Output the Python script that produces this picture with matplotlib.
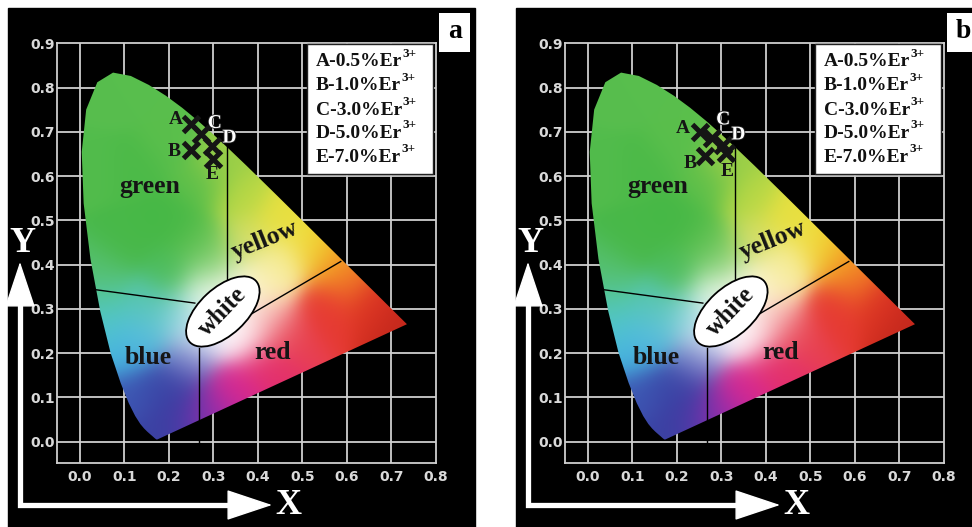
import numpy as np
import matplotlib.pyplot as plt
from matplotlib.patches import Polygon, Ellipse, Rectangle
from matplotlib.colors import to_rgb
import matplotlib.patheffects as pe

W, H = 972, 527

# CIE 1931 spectral locus, 380-700 nm
locus_x = [0.1741, 0.1740, 0.1738, 0.1736, 0.1733, 0.1730, 0.1726, 0.1721, 0.1714, 0.1703,
           0.1689, 0.1669, 0.1644, 0.1611, 0.1566, 0.1510, 0.1440, 0.1355, 0.1241, 0.1096,
           0.0913, 0.0687, 0.0454, 0.0235, 0.0082, 0.0039, 0.0139, 0.0389, 0.0743, 0.1142,
           0.1547, 0.1929, 0.2296, 0.2658, 0.3016, 0.3373, 0.3731, 0.4087, 0.4441, 0.4788,
           0.5125, 0.5448, 0.5752, 0.6029, 0.6270, 0.6482, 0.6658, 0.6801, 0.6915, 0.7006,
           0.7079, 0.7140, 0.7190, 0.7230, 0.7260, 0.7283, 0.7300, 0.7320, 0.7334, 0.7347]
locus_y = [0.0050, 0.0050, 0.0049, 0.0049, 0.0048, 0.0048, 0.0048, 0.0048, 0.0051, 0.0058,
           0.0069, 0.0086, 0.0109, 0.0138, 0.0177, 0.0227, 0.0297, 0.0399, 0.0578, 0.0868,
           0.1327, 0.2007, 0.2950, 0.4127, 0.5384, 0.6548, 0.7502, 0.8120, 0.8338, 0.8262,
           0.8059, 0.7816, 0.7543, 0.7243, 0.6923, 0.6589, 0.6245, 0.5896, 0.5547, 0.5202,
           0.4866, 0.4544, 0.4242, 0.3965, 0.3725, 0.3514, 0.3340, 0.3197, 0.3083, 0.2993,
           0.2920, 0.2859, 0.2809, 0.2770, 0.2740, 0.2717, 0.2700, 0.2680, 0.2666, 0.2653]

# colour shading of the diagram (anchor chromaticity -> colour)
shade = [
    (0.08, 0.78, '#58be4e'), (0.03, 0.62, '#52bc4c'), (0.12, 0.62, '#4cba48'),
    (0.20, 0.68, '#5abf4c'), (0.10, 0.45, '#48b848'), (0.20, 0.50, '#46b846'),
    (0.27, 0.58, '#5cbf4a'), (0.27, 0.45, '#58be4c'), (0.05, 0.38, '#55bf6a'),
    (0.20, 0.38, '#4cbc58'),
    (0.32, 0.63, '#9ccf48'), (0.36, 0.55, '#b8d845'), (0.37, 0.45, '#d4de68'),
    (0.45, 0.50, '#e8e040'), (0.52, 0.44, '#f0dc38'), (0.45, 0.40, '#f6ec98'),
    (0.57, 0.41, '#f4a822'), (0.60, 0.37, '#f07028'),
    (0.66, 0.31, '#dc3424'), (0.72, 0.27, '#c4281c'), (0.55, 0.30, '#e63a32'),
    (0.47, 0.24, '#e84050'), (0.42, 0.17, '#e4306a'), (0.35, 0.12, '#d82890'),
    (0.30, 0.07, '#a82aa8'), (0.26, 0.04, '#6a34b0'),
    (0.20, 0.04, '#3c3ca0'), (0.17, 0.01, '#3a44a4'), (0.17, 0.12, '#3a48a8'),
    (0.12, 0.10, '#3e58b4'), (0.22, 0.10, '#383ca0'),
    (0.10, 0.20, '#44b0e0'), (0.06, 0.26, '#50c4d0'), (0.14, 0.24, '#5cc0dc'),
    (0.05, 0.32, '#55c8a8'), (0.15, 0.31, '#58c6b4'),
    (0.32, 0.29, '#ffffff'), (0.36, 0.35, '#fffaf0'), (0.28, 0.33, '#e2f4e2'),
    (0.36, 0.24, '#fff4f8'), (0.27, 0.24, '#eaeefa'),
    (0.30, 0.40, '#90d480'), (0.42, 0.36, '#faf0b0'), (0.42, 0.28, '#f8c8c8'),
    (0.22, 0.28, '#80d0d8'), (0.24, 0.18, '#7078c4'),
]
shade_x = [s[0] for s in shade]
shade_y = [s[1] for s in shade]
shade_c = [s[2] for s in shade]

ticks_x = [0.0, 0.1, 0.2, 0.3, 0.4, 0.5, 0.6, 0.7, 0.8]
ticks_y = [0.0, 0.1, 0.2, 0.3, 0.4, 0.5, 0.6, 0.7, 0.8, 0.9]

legend_lines = ['A-0.5%Er', 'B-1.0%Er', 'C-3.0%Er', 'D-5.0%Er', 'E-7.0%Er']
point_names = ['A', 'B', 'C', 'D', 'E']

# panel a coordinates (A, B, C, D, E)
a_x = [0.249, 0.249, 0.273, 0.296, 0.298]
a_y = [0.717, 0.659, 0.695, 0.667, 0.638]
a_lab_x = [0.216, 0.211, 0.303, 0.336, 0.296]
a_lab_y = [0.727, 0.655, 0.719, 0.686, 0.603]

# panel b coordinates
b_x = [0.252, 0.262, 0.278, 0.304, 0.310]
b_y = [0.700, 0.646, 0.686, 0.670, 0.652]
b_lab_x = [0.214, 0.229, 0.304, 0.338, 0.313]
b_lab_y = [0.708, 0.629, 0.727, 0.693, 0.610]

region_names = ['green', 'yellow', 'blue', 'red']
region_x = [0.157, 0.416, 0.154, 0.433]
region_y = [0.577, 0.456, 0.189, 0.202]
region_rot = [0, 22, 0, 0]

# boundary lines between colour regions
bound_x = [[0.330, 0.330], [0.0075, 0.258], [0.386, 0.586], [0.268, 0.268]]
bound_y = [[0.675, 0.362], [0.347, 0.313], [0.289, 0.407], [0.211, 0.0]]


def chroma_image(sigma=0.04):
    gx = np.linspace(0.0, 0.75, 300)
    gy = np.linspace(0.0, 0.85, 340)
    xx, yy = np.meshgrid(gx, gy)
    cols = np.array([to_rgb(c) for c in shade_c])
    d2 = (xx[..., None] - np.array(shade_x)) ** 2 + (yy[..., None] - np.array(shade_y)) ** 2
    d2 = d2 - d2.min(axis=2, keepdims=True)
    w = np.exp(-d2 / (2 * sigma ** 2))
    rgb = np.einsum('hwk,kc->hwc', w, cols) / w.sum(axis=2, keepdims=True)
    return np.clip(rgb, 0, 1), (gx[0], gx[-1], gy[0], gy[-1])


img, ext = chroma_image()

fig = plt.figure(figsize=(9.72, 5.27), dpi=100)
fig.patch.set_facecolor('white')

bg = fig.add_axes([0, 0, 1, 1], zorder=-5)
bg.set_xlim(0, W)
bg.set_ylim(H, 0)
bg.axis('off')
bg.add_patch(Rectangle((8, 8), 467, 519, color='black'))
bg.add_patch(Rectangle((516, 8), 460, 519, color='black'))

ov = fig.add_axes([0, 0, 1, 1], zorder=10)
ov.set_xlim(0, W)
ov.set_ylim(H, 0)
ov.axis('off')
ov.patch.set_alpha(0)

serif = dict(family='Liberation Serif', weight='bold')


def draw_panel(x_off, letter, mk_x, mk_y, lab_x, lab_y):
    ax = fig.add_axes([(57.3 + x_off) / W, 1 - 463.3 / H, 378.7 / W, 420 / H])
    ax.set_xlim(-0.051, 0.8)
    ax.set_ylim(-0.049, 0.9)
    ax.patch.set_alpha(0)
    for s in ax.spines.values():
        s.set_color('#cfcfcf')
        s.set_linewidth(1.3)
    for t in ticks_x[:-1]:
        ax.axvline(t, color='#cfcfcf', lw=1.3, zorder=1)
    for t in ticks_y[:-1]:
        ax.axhline(t, color='#cfcfcf', lw=1.3, zorder=1)
    ax.set_xticks(ticks_x)
    ax.set_yticks(ticks_y)
    ax.set_xticklabels([f'{t:.1f}' for t in ticks_x])
    ax.set_yticklabels([f'{t:.1f}' for t in ticks_y])
    ax.tick_params(length=0, colors='#d9d9d9', labelsize=10, pad=5)
    ax.tick_params(axis='y', pad=2)
    for lb in ax.get_xticklabels() + ax.get_yticklabels():
        lb.set_fontweight('bold')

    # colour area of the chromaticity diagram
    poly = Polygon(np.column_stack([locus_x, locus_y]), closed=True,
                   facecolor='none', edgecolor='none', transform=ax.transData)
    ax.add_patch(poly)
    im = ax.imshow(img, extent=ext, origin='lower', interpolation='bilinear',
                   zorder=2, aspect='auto')
    im.set_clip_path(poly)

    for bx, by in zip(bound_x, bound_y):
        ax.plot(bx, by, color='black', lw=1.0, zorder=3)

    ax.add_patch(Ellipse((0.321, 0.294), 0.203, 0.106, angle=43, facecolor='white',
                         edgecolor='black', lw=1.3, zorder=4))
    ax.text(0.321, 0.294, 'white', rotation=46, ha='center', va='center',
            fontsize=18, color='#111111', zorder=5, **serif)
    for name, rx, ry, rr in zip(region_names, region_x, region_y, region_rot):
        ax.text(rx, ry, name, rotation=rr, ha='center', va='center',
                fontsize=18.5, color='#151515', zorder=5, **serif)

    ax.plot(mk_x, mk_y, 'x', color='#151515', ms=11, mew=3.6, zorder=6, ls='none')
    for name, lx, ly in zip(point_names, lab_x, lab_y):
        if name in ('C', 'D'):
            ax.text(lx, ly, name, ha='center', va='center', fontsize=14, color='white',
                    zorder=7, path_effects=[pe.withStroke(linewidth=1.2, foreground='#222222')],
                    **serif)
        else:
            ax.text(lx, ly, name, ha='center', va='center', fontsize=14, color='#151515',
                    zorder=7, **serif)

    # legend box
    ax.add_patch(Rectangle((0.510, 0.605), 0.283, 0.293, facecolor='white',
                           edgecolor='#222222', lw=1.0, zorder=8))
    leg_y = [0.858, 0.804, 0.749, 0.697, 0.643]
    for txt, ly in zip(legend_lines, leg_y):
        t = ax.text(0.530, ly, txt, ha='left', va='center', fontsize=14,
                    color='#111111', zorder=9, **serif)
        ax.annotate('3+', xy=(1.0, 0.62), xycoords=t, ha='left', va='bottom',
                    fontsize=9.5, color='#111111', zorder=9, **serif)

    # panel letter
    ov.add_patch(Rectangle((439 + x_off, 13), 31, 39, facecolor='white', edgecolor='none'))
    ov.text(455 + x_off, 31, letter, ha='center', va='center', fontsize=20,
            color='black', **serif)

    # axis arrows
    ov.plot([20 + x_off, 20 + x_off, 250 + x_off], [285, 505, 505], color='white',
            lw=3.8, solid_joinstyle='miter', solid_capstyle='butt')
    head = dict(arrowstyle='-|>,head_length=1.5,head_width=0.5', color='white', lw=1,
                shrinkA=0, shrinkB=0, mutation_scale=20)
    ov.annotate('', xy=(20 + x_off, 262), xytext=(20 + x_off, 300), arrowprops=head)
    ov.annotate('', xy=(272 + x_off, 505), xytext=(235 + x_off, 505), arrowprops=head)
    ov.text(22 + x_off, 244, 'Y', ha='center', va='center', fontsize=26,
            color='white', **serif)
    ov.text(288 + x_off, 506, 'X', ha='center', va='center', fontsize=26,
            color='white', **serif)


draw_panel(0, 'a', a_x, a_y, a_lab_x, a_lab_y)
draw_panel(508, 'b', b_x, b_y, b_lab_x, b_lab_y)

fig.savefig('out.png', dpi=100)
